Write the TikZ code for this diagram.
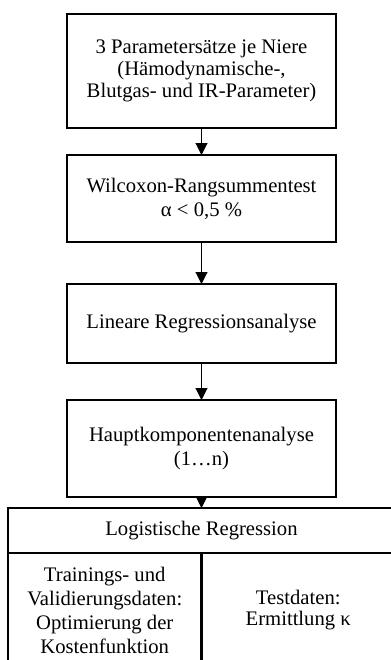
\documentclass[tikz,border=0pt]{standalone}
\usepackage{fontspec}
\setmainfont{Liberation Serif}
\usetikzlibrary{positioning}
\usetikzlibrary{arrows.meta}

\tikzset{
    stepbox/.style={draw, line width=1.6pt, align=center, minimum width=201.75pt, inner sep=2pt, outer sep=0pt,
        font=\fontsize{15.5}{18}\selectfont},
    cell/.style={stepbox, minimum width=145.1pt, minimum height=85.5pt},
}

\begin{document}
\begin{tikzpicture}[>={Triangle[length=9pt, width=9pt]}, x=0.75pt, y=-0.75pt]
    \useasboundingbox (0,0) rectangle (391,660);

    % Pipeline
    \node[stepbox, minimum height=85.5pt, font=\fontsize{15.5}{16.4}\selectfont] (params) at (201.5, 71) {3 Parametersätze je Niere\\(Hämodynamische-,\\Blutgas- und IR-Parameter)};
    \node[stepbox, minimum height=65.25pt, below=20.25pt of params] (wilcoxon) {Wilcoxon-Rangsummentest\\α < 0,5 \%};
    \node[stepbox, minimum height=59.25pt, below=31.5pt of wilcoxon] (linreg) {Lineare Regressionsanalyse};
    \node[stepbox, minimum height=72.75pt, below=27.75pt of linreg] (pca) {Hauptkomponentenanalyse\\(1…n)};

    % Classifier
    \node[stepbox, minimum width=290.25pt, minimum height=33.75pt, below=8.25pt of pca] (logreg) {Logistische Regression};
    \node[cell, anchor=north west] (train) at (logreg.south west) {Trainings- und\\Validierungsdaten:\\Optimierung der\\Kostenfunktion};
    \node[cell, anchor=north west, font=\fontsize{15.5}{16.4}\selectfont] (test) at (logreg.south) {Testdaten:\\Ermittlung κ};

    \draw[->, thick] (params) -- (wilcoxon);
    \draw[->, thick] (wilcoxon) -- (linreg);
    \draw[->, thick] (linreg) -- (pca);
    \draw[->, thick] (pca) -- (logreg);
\end{tikzpicture}
\end{document}
